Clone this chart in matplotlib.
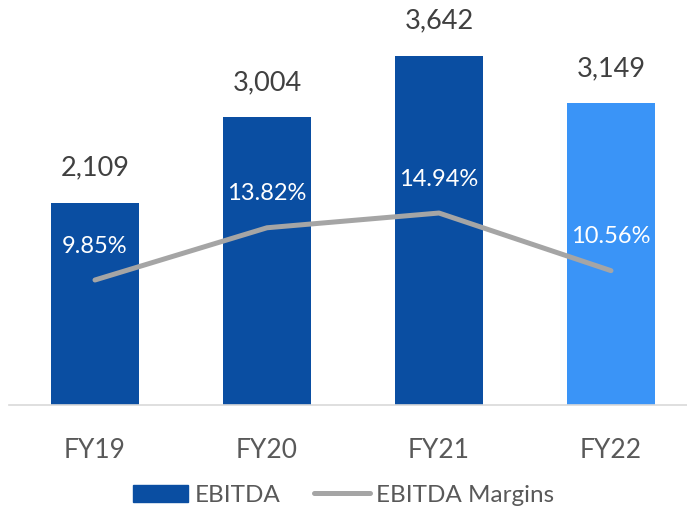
import matplotlib.pyplot as plt
from matplotlib.patches import Patch
from matplotlib.lines import Line2D

# data
years = ["FY19", "FY20", "FY21", "FY22"]
ebitda = [2109, 3004, 3642, 3149]
margins = [9.85, 13.82, 14.94, 10.56]
bar_colors = ["#0A4EA2", "#0A4EA2", "#0A4EA2", "#3A94F7"]

plt.rcParams['font.family'] = ['Lato', 'DejaVu Sans']

fig = plt.figure(figsize=(6.87, 5.09), dpi=100)
ax = fig.add_axes([9 / 687, 104 / 509, 678 / 687, 405 / 509])

x = list(range(len(years)))
ax.bar(x, ebitda, width=0.51, color=bar_colors, zorder=2)
ax.set_xlim(-0.5, 3.442)
ax.set_ylim(0, 4223)

for i, v in enumerate(ebitda):
    ax.annotate(f"{v:,}", (i, v), xytext=(0, 22), textcoords="offset pixels",
                ha="center", va="bottom", fontsize=19.5, color="#404040")

ax.set_xticks(x)
ax.set_xticklabels(years, fontsize=19, color="#595959")
ax.tick_params(axis="x", length=0, pad=24)
ax.set_yticks([])
for s in ["top", "left", "right"]:
    ax.spines[s].set_visible(False)
ax.spines["bottom"].set_color("#D9D9D9")
ax.spines["bottom"].set_linewidth(1.2)

# margins on second axis
ax2 = ax.twinx()
ax2.set_ylim(0.35, 31.13)
ax2.plot(x, margins, color="#A5A5A5", linewidth=3.6, solid_capstyle="round", zorder=3)
for i, m in enumerate(margins):
    ax2.annotate(f"{m:.2f}%", (i, m), xytext=(0, 34), textcoords="offset pixels",
                 ha="center", va="center", fontsize=17, color="white")
ax2.set_yticks([])
for s in ax2.spines.values():
    s.set_visible(False)

handles = [Patch(color="#0A4EA2"),
           Line2D([0], [0], color="#A5A5A5", linewidth=3.6, solid_capstyle="round")]
fig.legend(handles, ["EBITDA", "EBITDA Margins"], loc="center", bbox_to_anchor=(0.5, 0.027),
           ncol=2, frameon=False, fontsize=17.5, handlelength=2.3, handletextpad=0.25,
           columnspacing=1.4, labelcolor="#595959")

fig.savefig("out.png", dpi=100)
